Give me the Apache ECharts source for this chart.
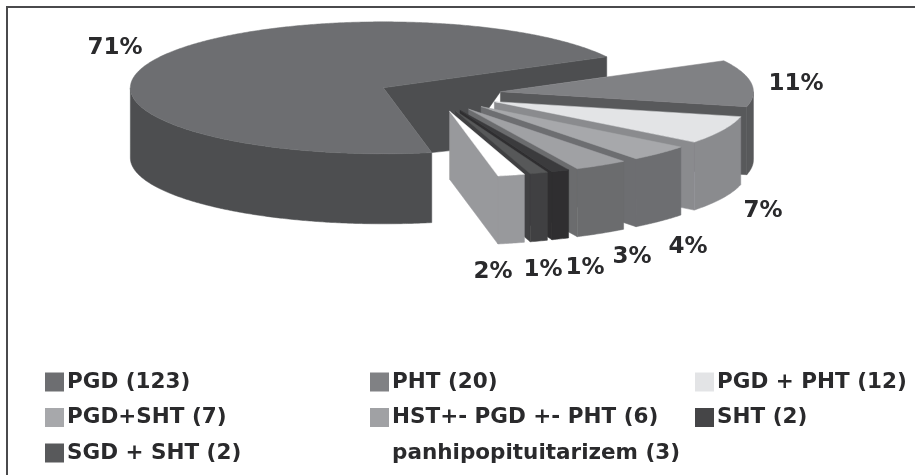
<!DOCTYPE html>
<html>
<head>
<meta charset="utf-8">
<style>
  html, body { margin: 0; padding: 0; background: #fff; }
  #chart { width: 915px; height: 475px; }
</style>
</head>
<body>
<div id="chart"></div>
<script src="https://cdn.jsdelivr.net/npm/echarts@6/dist/echarts.min.js"></script>
<script>
// data
const categories = ['PGD (123)', 'PHT (20)', 'PGD + PHT (12)', 'PGD+SHT (7)', 'HST+- PGD +- PHT (6)', 'SHT (2)', 'SGD + SHT (2)', 'panhipopituitarizem (3)'];
const values = [123, 20, 12, 7, 6, 2, 2, 3];
const percentLabels = ['71%', '11%', '7%', '4%', '3%', '1%', '1%', '2%'];

// colours: top face, side wall
const topColors = ['#6d6e71', '#808184', '#e3e4e6', '#a7a8ab', '#a0a1a4', '#3b3b3d', '#575859', '#ffffff'];
const sideColors = ['#4d4e50', '#58595b', '#8a8b8e', '#6d6e71', '#6b6c6e', '#2f2e30', '#404042', '#98999c'];
const legendColors = ['#6d6e71', '#808184', '#e3e4e6', '#a7a8ab', '#a0a1a4', '#454547', '#58595b', '#ffffff'];

// where the percent labels sit (centres)
const labelPos = [[115, 48], [796, 84], [763, 211], [688, 247], [632, 257], [585, 268], [543, 270], [493, 272]];

// pie geometry
const CX = 433, CY = 94;      // true centre of the pie
const RX = 253, RY = 66;      // top ellipse
const DEPTH = 68, MAIN_DEPTH = 70;
const EXPLODE = 68, MAIN_EXPLODE = 55;
const SPLIT = 28;             // angle where the first slice ends, math degrees

const total = values.reduce((a, b) => a + b, 0);
const rad = d => d * Math.PI / 180;

// angles go clockwise (decreasing), first slice ends at SPLIT
let slices = [];
let cursor = SPLIT + values[0] / total * 360;
values.forEach((v, i) => {
  let sweep = v / total * 360;
  slices.push({ from: cursor, to: cursor - sweep, mid: cursor - sweep / 2, explode: i === 0 ? MAIN_EXPLODE : EXPLODE });
  cursor -= sweep;
});

function apexOf(s) {
  return [CX + s.explode * Math.cos(rad(s.mid)), CY - s.explode * Math.sin(rad(s.mid)) * RY / RX];
}
function rim(apex, a) {
  return [apex[0] + RX * Math.cos(rad(a)), apex[1] - RY * Math.sin(rad(a))];
}
function down(p, d) { return [p[0], p[1] + d]; }
function arcPoints(apex, from, to) {
  let pts = [];
  for (let a = from; a > to; a -= 0.5) pts.push(rim(apex, a));
  pts.push(rim(apex, to));
  return pts;
}

function poly(points, color) {
  return { type: 'polygon', shape: { points: points }, style: { fill: color, stroke: color, lineWidth: 0.5 } };
}

function renderSlice(i) {
  let s = slices[i];
  let apex = apexOf(s);
  let depth = i === 0 ? MAIN_DEPTH : DEPTH;
  let children = [];

  // radial wall
  if (i === 0) {
    // the big slice shows a short wall at the back, running to its front corner
    let back = rim(apex, s.to), front = rim(apex, s.from);
    children.push(poly([apex, back, down(back, 20), apexOf(slices[1]), [front[0] + 28, front[1] - 3], front], sideColors[0]));
  } else {
    let e = rim(apex, s.to);
    children.push(poly([apex, e, down(e, depth), down(apex, depth)], sideColors[i]));
  }

  // outer wall, only the part facing the viewer (lower half of the ellipse)
  let arc = i === 0 ? arcPoints(apex, s.from, 180) : arcPoints(apex, Math.min(s.from, 0), s.to);
  children.push(poly(arc.concat(arc.slice().reverse().map(p => down(p, depth))), sideColors[i]));

  // top face
  children.push(poly([apex].concat(arcPoints(apex, s.from, s.to)), topColors[i]));

  // percent label
  children.push({
    type: 'text',
    z2: 10,
    style: {
      text: percentLabels[i], x: labelPos[i][0], y: labelPos[i][1],
      align: 'center', verticalAlign: 'middle',
      font: 'bold 23px "DejaVu Sans"', fill: '#2a2a2c'
    }
  });
  return { type: 'group', children: children };
}

const chart = echarts.init(document.getElementById('chart'), null, { renderer: 'canvas' });

function legendColumn(names, left) {
  return {
    left: left, top: 371, orient: 'vertical', icon: 'rect',
    itemWidth: 19, itemHeight: 19, itemGap: 13.5, selectedMode: false, padding: 0,
    data: names,
    textStyle: { fontFamily: 'DejaVu Sans', fontWeight: 'bold', fontSize: 21.5, color: '#2a2a2c', padding: [0, 0, 0, -2] }
  };
}

chart.setOption({
  animation: false,
  backgroundColor: '#ffffff',
  legend: [
    legendColumn([categories[0], categories[3], categories[6]], 45),
    legendColumn([categories[1], categories[4], categories[7]], 370),
    legendColumn([categories[2], categories[5]], 695)
  ],
  graphic: [
    { type: 'line', shape: { x1: 6, y1: 7, x2: 915, y2: 7 }, style: { stroke: '#4a4a4c', lineWidth: 2 } },
    { type: 'line', shape: { x1: 7, y1: 6, x2: 7, y2: 475 }, style: { stroke: '#4a4a4c', lineWidth: 2 } }
  ],
  series: categories.map((name, i) => ({
    type: 'custom',
    name: name,
    coordinateSystem: 'none',
    silent: true,
    itemStyle: { color: legendColors[i] },
    data: [values[i]],
    renderItem: () => renderSlice(i)
  }))
});
</script>
</body>
</html>
